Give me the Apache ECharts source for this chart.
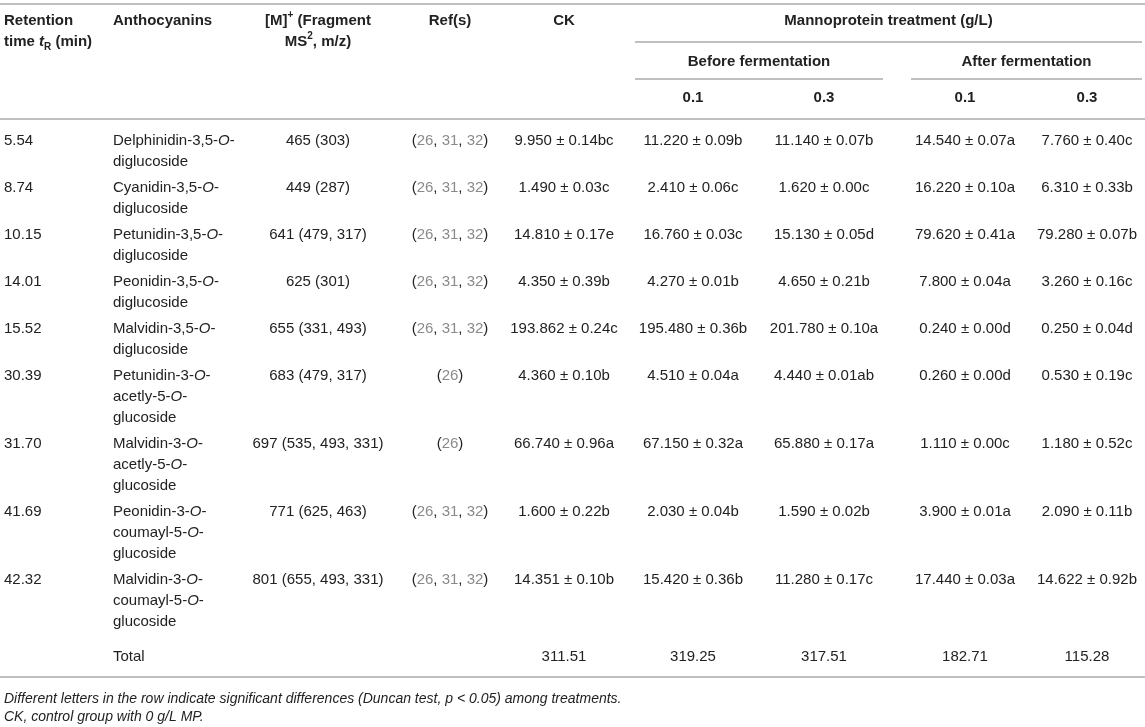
<!DOCTYPE html>
<html>
<head>
<meta charset="utf-8">
<script src="https://cdn.jsdelivr.net/npm/echarts@6/dist/echarts.min.js"></script>
<style>
html,body{margin:0;padding:0;background:#ffffff;}
#chart{width:1145px;height:727px;}
</style>
</head>
<body>
<div id="chart"></div>
<script>
// ---------------- DATA ----------------
const retentionTimes = ['5.54', '8.74', '10.15', '14.01', '15.52', '30.39', '31.70', '41.69', '42.32'];
// compound names split into the printed lines; "-O-" is italic O
const anthocyanins = [
  ['Delphinidin-3,5-O-', 'diglucoside'],
  ['Cyanidin-3,5-O-', 'diglucoside'],
  ['Petunidin-3,5-O-', 'diglucoside'],
  ['Peonidin-3,5-O-', 'diglucoside'],
  ['Malvidin-3,5-O-', 'diglucoside'],
  ['Petunidin-3-O-', 'acetly-5-O-', 'glucoside'],
  ['Malvidin-3-O-', 'acetly-5-O-', 'glucoside'],
  ['Peonidin-3-O-', 'coumayl-5-O-', 'glucoside'],
  ['Malvidin-3-O-', 'coumayl-5-O-', 'glucoside']
];
const fragments = ['465 (303)', '449 (287)', '641 (479, 317)', '625 (301)', '655 (331, 493)',
  '683 (479, 317)', '697 (535, 493, 331)', '771 (625, 463)', '801 (655, 493, 331)'];
const references = [[26, 31, 32], [26, 31, 32], [26, 31, 32], [26, 31, 32], [26, 31, 32],
  [26], [26], [26, 31, 32], [26, 31, 32]];

const ckMean = [9.950, 1.490, 14.810, 4.350, 193.862, 4.360, 66.740, 1.600, 14.351];
const ckSd = [0.14, 0.03, 0.17, 0.39, 0.24, 0.10, 0.96, 0.22, 0.10];
const ckLetter = ['bc', 'c', 'e', 'b', 'c', 'b', 'a', 'b', 'b'];

const before01Mean = [11.220, 2.410, 16.760, 4.270, 195.480, 4.510, 67.150, 2.030, 15.420];
const before01Sd = [0.09, 0.06, 0.03, 0.01, 0.36, 0.04, 0.32, 0.04, 0.36];
const before01Letter = ['b', 'c', 'c', 'b', 'b', 'a', 'a', 'b', 'b'];

const before03Mean = [11.140, 1.620, 15.130, 4.650, 201.780, 4.440, 65.880, 1.590, 11.280];
const before03Sd = [0.07, 0.00, 0.05, 0.21, 0.10, 0.01, 0.17, 0.02, 0.17];
const before03Letter = ['b', 'c', 'd', 'b', 'a', 'ab', 'a', 'b', 'c'];

const after01Mean = [14.540, 16.220, 79.620, 7.800, 0.240, 0.260, 1.110, 3.900, 17.440];
const after01Sd = [0.07, 0.10, 0.41, 0.04, 0.00, 0.00, 0.00, 0.01, 0.03];
const after01Letter = ['a', 'a', 'a', 'a', 'd', 'd', 'c', 'a', 'a'];

const after03Mean = [7.760, 6.310, 79.280, 3.260, 0.250, 0.530, 1.180, 2.090, 14.622];
const after03Sd = [0.40, 0.33, 0.07, 0.16, 0.04, 0.19, 0.52, 0.11, 0.92];
const after03Letter = ['c', 'b', 'b', 'c', 'd', 'c', 'c', 'b', 'b'];

const totals = ['311.51', '319.25', '317.51', '182.71', '115.28'];
const treatmentDoses = ['0.1', '0.3', '0.1', '0.3'];

// ---------------- LAYOUT ----------------
const W = 1145, H = 727;
const FONT = '"Liberation Sans", Arial, Helvetica, sans-serif';
const TEXT = '#222222';
const REFCOL = '#8a8a8a';
const RULE = '#ababab';
const LH = 21;
const colX = { rt: 4, name: 113, frag: 318, ref: 450, ck: 564, b01: 693, b03: 824, a01: 965, a03: 1087 };
const headY1 = 21, subHeadY = 62, doseY = 98;
const firstRowY = 141, rowGap = 5, totalExtra = 9;
const footY = [700, 718];

const RICH = {
  i:   { fontFamily: FONT, fontSize: 15, fontStyle: 'italic', fill: TEXT, lineHeight: LH },
  ib:  { fontFamily: FONT, fontSize: 15, fontStyle: 'italic', fontWeight: 'bold', fill: TEXT, lineHeight: LH },
  r:   { fontFamily: FONT, fontSize: 15, fill: REFCOL, lineHeight: LH },
  sup: { fontFamily: FONT, fontSize: 10, fontWeight: 'bold', fill: TEXT, lineHeight: 12, verticalAlign: 'top' },
  sub: { fontFamily: FONT, fontSize: 10, fontWeight: 'bold', fill: TEXT, lineHeight: 11, verticalAlign: 'bottom' },
  fi:  { fontFamily: FONT, fontSize: 14, fontStyle: 'italic', fill: TEXT, lineHeight: 19 }
};

function fmt(m, s, l) { return m.toFixed(3) + ' \u00b1 ' + s.toFixed(2) + l; }

const cells = [];
function addCell(x, y, text, align, opts) {
  cells.push(Object.assign({ x: x, y: y, text: text, align: align }, opts || {}));
}

// header
addCell(colX.rt, headY1, 'Retention\ntime {ib|t}{sub|R} (min)', 'left', { bold: true });
addCell(colX.name, headY1, 'Anthocyanins', 'left', { bold: true });
addCell(colX.frag, headY1, '[M]{sup|+} (Fragment\nMS{sup|2}, m/z)', 'center', { bold: true });
addCell(colX.ref, headY1, 'Ref(s)', 'center', { bold: true });
addCell(colX.ck, headY1, 'CK', 'center', { bold: true });
addCell((635 + 1142) / 2, headY1, 'Mannoprotein treatment (g/L)', 'center', { bold: true });
addCell((635 + 883) / 2, subHeadY, 'Before fermentation', 'center', { bold: true });
addCell((911 + 1142) / 2, subHeadY, 'After fermentation', 'center', { bold: true });
[colX.b01, colX.b03, colX.a01, colX.a03].forEach(function (x, k) {
  addCell(x, doseY, treatmentDoses[k], 'center', { bold: true });
});

// body rows
let y = firstRowY;
for (let i = 0; i < retentionTimes.length; i++) {
  const nameText = anthocyanins[i].map(function (ln) { return ln.replace(/-O-/g, '-{i|O}-'); }).join('\n');
  const refText = '(' + references[i].map(function (r) { return '{r|' + r + '}'; }).join(', ') + ')';
  addCell(colX.rt, y, retentionTimes[i], 'left');
  addCell(colX.name, y, nameText, 'left');
  addCell(colX.frag, y, fragments[i], 'center');
  addCell(colX.ref, y, refText, 'center');
  addCell(colX.ck, y, fmt(ckMean[i], ckSd[i], ckLetter[i]), 'center');
  addCell(colX.b01, y, fmt(before01Mean[i], before01Sd[i], before01Letter[i]), 'center');
  addCell(colX.b03, y, fmt(before03Mean[i], before03Sd[i], before03Letter[i]), 'center');
  addCell(colX.a01, y, fmt(after01Mean[i], after01Sd[i], after01Letter[i]), 'center');
  addCell(colX.a03, y, fmt(after03Mean[i], after03Sd[i], after03Letter[i]), 'center');
  y += anthocyanins[i].length * LH + rowGap;
}
y += totalExtra;
addCell(colX.name, y, 'Total', 'left');
[colX.ck, colX.b01, colX.b03, colX.a01, colX.a03].forEach(function (x, k) {
  addCell(x, y, totals[k], 'center');
});

// footnotes
addCell(colX.rt, footY[0], '{fi|Different letters in the row indicate significant differences (Duncan test, p < 0.05) among treatments.}', 'left');
addCell(colX.rt, footY[1], '{fi|CK, control group with 0 g/L MP.}', 'left');

// rules
const rules = [
  { x1: 0, x2: W, y: 4 },
  { x1: 635, x2: 1142, y: 42 },
  { x1: 635, x2: 883, y: 79 },
  { x1: 911, x2: 1142, y: 79 },
  { x1: 0, x2: W, y: 119 },
  { x1: 0, x2: W, y: 677 }
];

// ---------------- CHART ----------------
const chart = echarts.init(document.getElementById('chart'), null, { renderer: 'canvas' });
chart.setOption({
  backgroundColor: '#ffffff',
  animation: false,
  grid: { left: 0, right: 0, top: 0, bottom: 0 },
  xAxis: { type: 'value', min: 0, max: W, show: false },
  yAxis: { type: 'value', min: 0, max: H, inverse: true, show: false },
  series: [
    {
      type: 'custom',
      name: 'rules',
      silent: true,
      clip: false,
      data: rules.map(function (r) { return [r.x1, r.y, r.x2]; }),
      renderItem: function (params, api) {
        const p1 = api.coord([api.value(0), api.value(1)]);
        const p2 = api.coord([api.value(2), api.value(1)]);
        return {
          type: 'line',
          shape: { x1: p1[0], y1: p1[1], x2: p2[0], y2: p2[1] },
          style: { stroke: RULE, lineWidth: 1.5 }
        };
      }
    },
    {
      type: 'custom',
      name: 'cells',
      silent: true,
      clip: false,
      data: cells.map(function (c, i) { return [c.x, c.y, i]; }),
      renderItem: function (params, api) {
        const c = cells[api.value(2)];
        const p = api.coord([api.value(0), api.value(1)]);
        return {
          type: 'text',
          x: p[0],
          y: p[1] - LH / 2,
          style: {
            text: c.text,
            rich: RICH,
            fontFamily: FONT,
            fontSize: 15,
            fontWeight: c.bold ? 'bold' : 'normal',
            fill: TEXT,
            align: c.align,
            verticalAlign: 'top',
            lineHeight: LH
          }
        };
      }
    }
  ]
});
</script>
</body>
</html>
